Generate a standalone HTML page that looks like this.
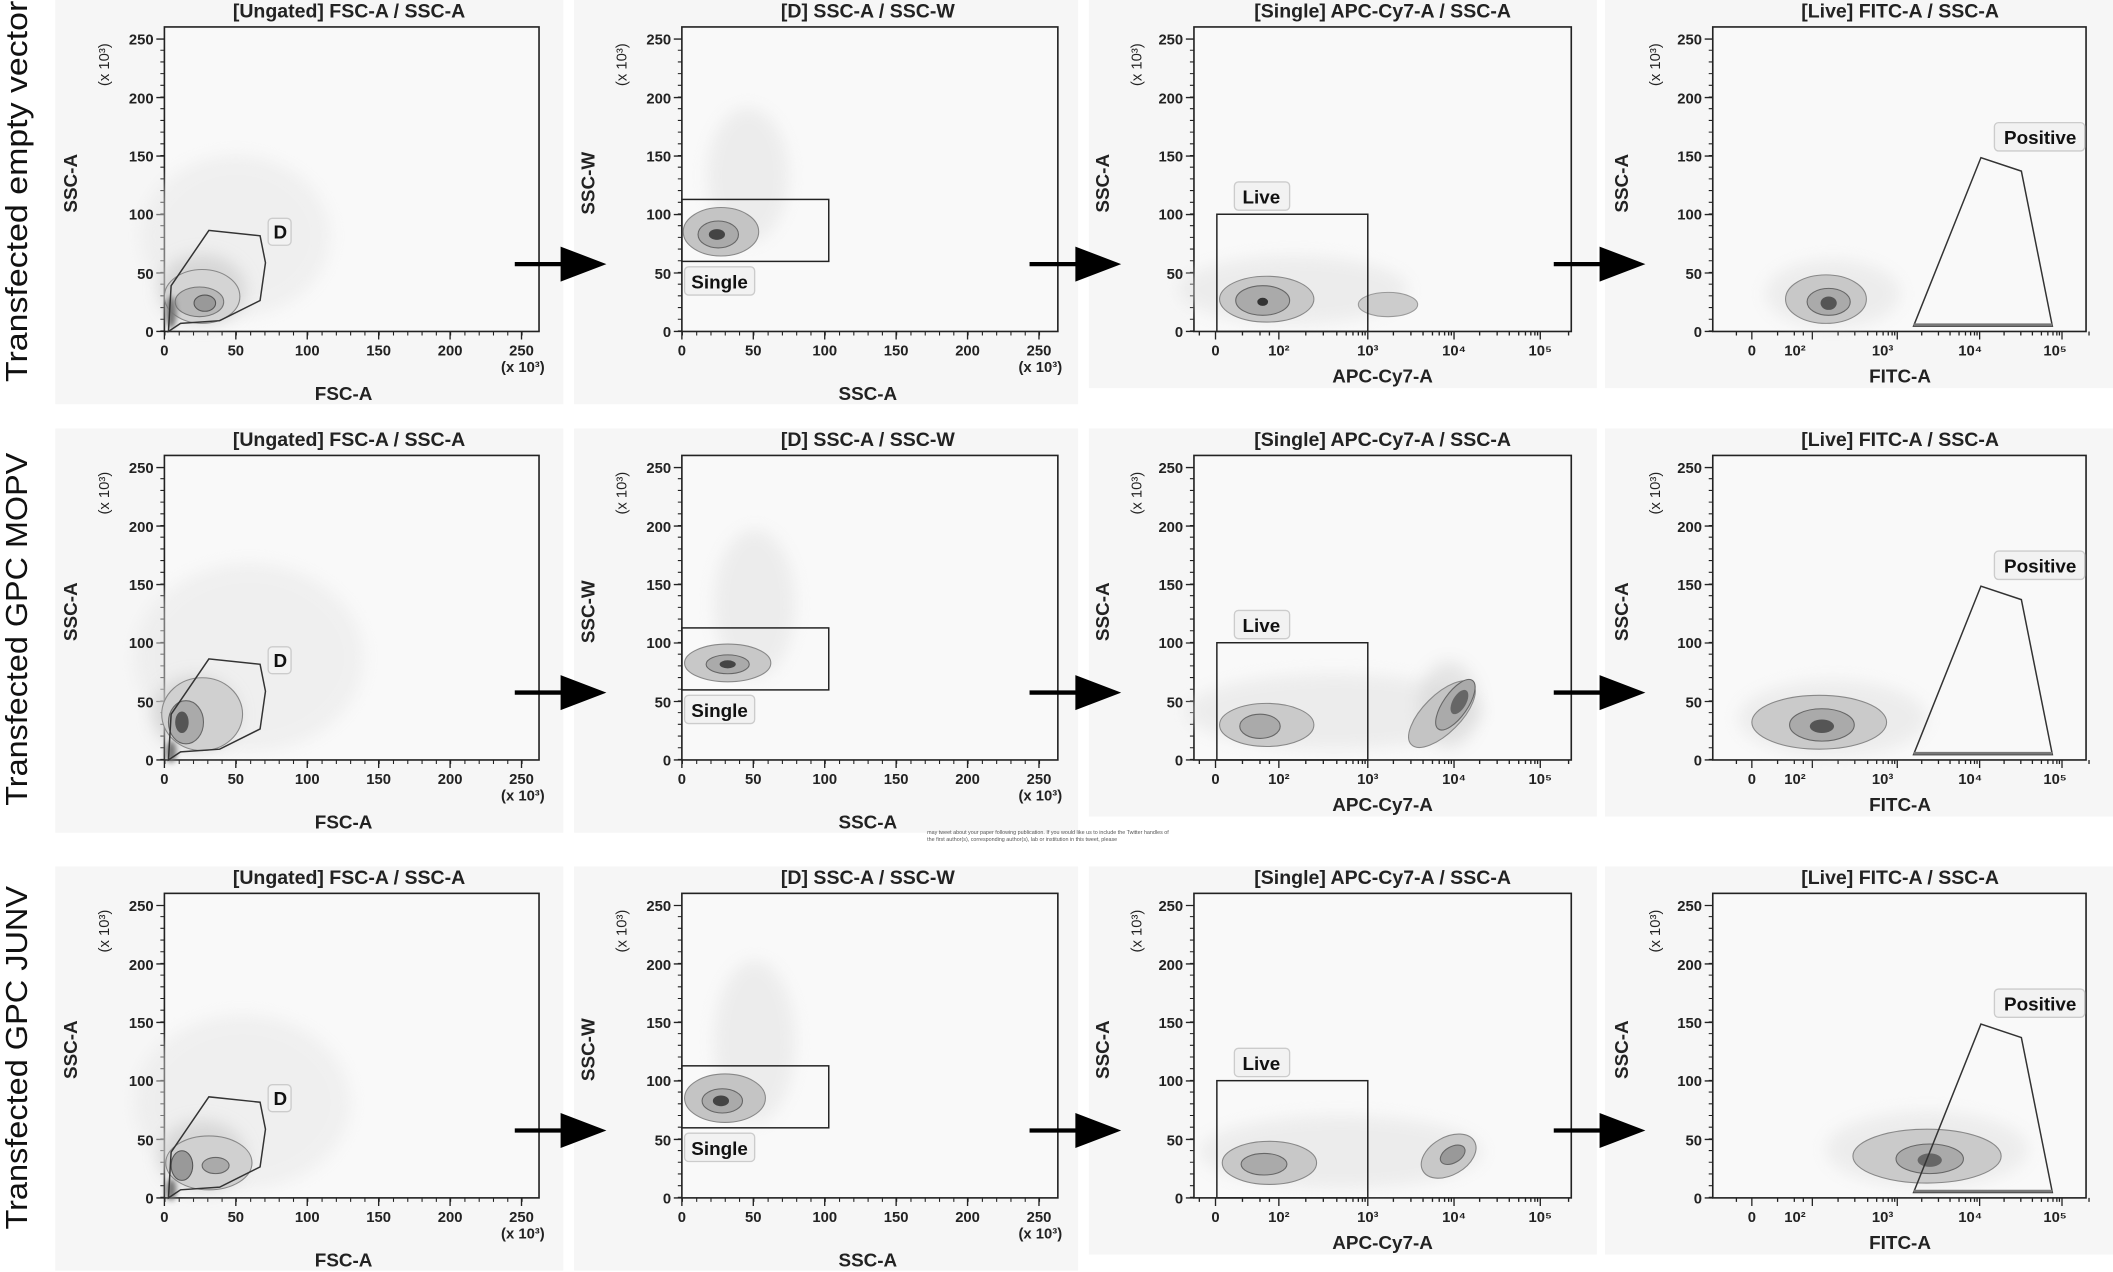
<!DOCTYPE html>
<html><head><meta charset="utf-8"><style>
html,body{margin:0;padding:0;background:#fff;}
svg{display:block;}
text{font-family:"Liberation Sans Narrow","Liberation Sans",sans-serif;fill:#222;font-weight:bold;}
.t{font-size:14.5px;text-anchor:middle;}
.yl{font-size:11px;text-anchor:end;font-weight:normal;}
.xl{font-size:11px;text-anchor:middle;font-weight:normal;}
.ax{font-size:14px;text-anchor:middle;}
.rl{font-family:"Liberation Sans",sans-serif;font-size:23px;text-anchor:middle;fill:#111;font-weight:normal;}
.gl{font-size:14px;text-anchor:middle;fill:#111;}
.cl{opacity:0.45;}
</style></head><body>
<svg width="2113" height="1272" viewBox="0 0 1568 944" preserveAspectRatio="none" xmlns="http://www.w3.org/2000/svg">
<defs>
<filter id="b" x="-50%" y="-50%" width="200%" height="200%"><feGaussianBlur stdDeviation="6"/></filter>
<filter id="b2" x="-50%" y="-50%" width="200%" height="200%"><feGaussianBlur stdDeviation="2"/></filter>
<g id="yt" stroke="#222" fill="none">
<line x1="-1.5" y1="246" x2="-1.5" y2="29" stroke-width="3" stroke-dasharray="0.8 7.88"/>
<path d="M-6 246H0M-6 202.6H0M-6 159.2H0M-6 115.8H0M-6 72.4H0M-6 29H0" stroke-width="1"/>
</g>
<g id="xtl" stroke="#222" fill="none">
<line x1="0" y1="247.5" x2="270" y2="247.5" stroke-width="3" stroke-dasharray="0.8 9.8"/>
<path d="M0 246V252M53 246V252M106 246V252M159 246V252M212 246V252M265 246V252" stroke-width="1"/>
</g>
<g id="xtg" stroke="#222" fill="none" stroke-width="1">
<path d="M0 246V252M47 246V252M113 246V252M177 246V252M241 246V252"/>
<path d="M-12 246V249M20 246V249M33 246V249M40 246V249M67 246V249M80 246V249M90 246V249M97 246V249M102 246V249M106 246V249M109 246V249M111 246V249M132 246V249M145 246V249M154 246V249M161 246V249M166 246V249M170 246V249M173 246V249M175 246V249M196 246V249M209 246V249M218 246V249M225 246V249M230 246V249M234 246V249M237 246V249M239 246V249M262 246V249"/>
</g>
<polygon id="arr" points="0,-1.6 34,-1.6 34,-13 68,0 34,13 34,1.6 0,1.6" fill="#000"/>
</defs>
<rect width="1568" height="944" fill="#fff"/>

<!-- Row labels -->
<text class="rl" transform="translate(20,142) rotate(-90)" textLength="283" lengthAdjust="spacingAndGlyphs">Transfected empty vector</text>
<text class="rl" transform="translate(20,467) rotate(-90)" textLength="262" lengthAdjust="spacingAndGlyphs">Transfected GPC MOPV</text>
<text class="rl" transform="translate(20,785) rotate(-90)" textLength="255" lengthAdjust="spacingAndGlyphs">Transfected GPC JUNV</text>

<g id="row1">
<rect x="41" y="0" width="377" height="300" fill="#f6f6f6"/>
<rect x="426" y="0" width="374" height="300" fill="#f6f6f6"/>
<rect x="808" y="0" width="377" height="288" fill="#f6f6f6"/>
<rect x="1191" y="0" width="377" height="288" fill="#f6f6f6"/>
</g>
<use href="#row1" y="318"/>
<use href="#row1" y="643"/>

<g id="frame">
<rect x="122" y="20" width="278" height="226" fill="#f9f9f9" stroke="#222" stroke-width="1.2"/>
<use href="#yt" x="122"/><use href="#xtl" x="122"/>
<rect x="506" y="20" width="279" height="226" fill="#f9f9f9" stroke="#222" stroke-width="1.2"/>
<use href="#yt" x="506"/><use href="#xtl" x="506"/>
<rect x="886" y="20" width="280" height="226" fill="#f9f9f9" stroke="#222" stroke-width="1.2"/>
<use href="#yt" x="886"/><use href="#xtg" x="902"/>
<rect x="1271" y="20" width="277" height="226" fill="#f9f9f9" stroke="#222" stroke-width="1.2"/>
<use href="#yt" x="1271"/><use href="#xtg" x="1300" transform="translate(1300,0) scale(0.955,1) translate(-1300,0)"/>
</g>
<use href="#frame" y="318"/>
<use href="#frame" y="643"/>

<!-- ============ DATA ROW 1 ============ -->
<g>
<ellipse class="cl" cx="175" cy="175" rx="70" ry="60" fill="#e4e4e4" filter="url(#b)"/>
<ellipse cx="150" cy="215" rx="32" ry="26" fill="#ccc" opacity="0.7" filter="url(#b)"/>
<ellipse cx="150" cy="220" rx="28" ry="20" fill="#d4d4d4" stroke="#888" stroke-width="0.8"/>
<ellipse cx="148" cy="224" rx="18" ry="11" fill="#b8b8b8" stroke="#777" stroke-width="0.8"/>
<ellipse cx="152" cy="225" rx="8" ry="6" fill="#999" stroke="#555" stroke-width="0.8"/>
<ellipse cx="127" cy="232" rx="4" ry="12" fill="#777" filter="url(#b2)"/>
<polygon points="127,212 155,171 193,175 197,195 193,223 163,238 134,240 125,246" fill="none" stroke="#333" stroke-width="1.1"/>
<ellipse class="cl" cx="555" cy="130" rx="30" ry="50" fill="#ddd" filter="url(#b)"/>
<ellipse cx="535" cy="172" rx="28" ry="18" fill="#c4c4c4" stroke="#888" stroke-width="0.8"/>
<ellipse cx="533" cy="174" rx="15" ry="10" fill="#aaa" stroke="#666" stroke-width="0.8"/>
<ellipse cx="532" cy="174" rx="6" ry="4" fill="#444"/>
<ellipse class="cl" cx="960" cy="215" rx="85" ry="25" fill="#ddd" filter="url(#b)"/>
<ellipse cx="940" cy="222" rx="35" ry="17" fill="#c8c8c8" stroke="#888" stroke-width="0.8"/>
<ellipse cx="937" cy="223" rx="20" ry="11" fill="#aaa" stroke="#666" stroke-width="0.8"/>
<ellipse cx="937" cy="224" rx="4" ry="3" fill="#333"/>
<ellipse cx="1030" cy="226" rx="22" ry="9" fill="#ccc" stroke="#999" stroke-width="0.8"/>
<ellipse class="cl" cx="1360" cy="218" rx="50" ry="25" fill="#ddd" filter="url(#b)"/>
<ellipse cx="1355" cy="222" rx="30" ry="18" fill="#c8c8c8" stroke="#888" stroke-width="0.8"/>
<ellipse cx="1357" cy="224" rx="16" ry="10" fill="#aaa" stroke="#666" stroke-width="0.8"/>
<ellipse cx="1357" cy="225" rx="6" ry="5" fill="#555"/>
</g>

<!-- ============ DATA ROW 2 ============ -->
<g transform="translate(0,318)">
<ellipse class="cl" cx="185" cy="170" rx="85" ry="70" fill="#e4e4e4" filter="url(#b)"/>
<ellipse cx="145" cy="212" rx="32" ry="28" fill="#ccc" opacity="0.7" filter="url(#b)"/>
<ellipse cx="150" cy="212" rx="30" ry="27" fill="#d0d0d0" stroke="#888" stroke-width="0.8"/>
<ellipse cx="138" cy="218" rx="13" ry="16" fill="#aaa" stroke="#666" stroke-width="0.8"/>
<ellipse cx="135" cy="218" rx="5" ry="8" fill="#555"/>
<ellipse cx="127" cy="240" rx="4" ry="8" fill="#777" filter="url(#b2)"/>
<polygon points="127,212 155,171 193,175 197,195 193,223 163,238 134,240 125,246" fill="none" stroke="#333" stroke-width="1.1"/>
<ellipse class="cl" cx="560" cy="130" rx="30" ry="55" fill="#ddd" filter="url(#b)"/>
<ellipse cx="540" cy="174" rx="32" ry="14" fill="#c8c8c8" stroke="#888" stroke-width="0.8"/>
<ellipse cx="540" cy="175" rx="16" ry="7" fill="#aaa" stroke="#666" stroke-width="0.8"/>
<ellipse cx="540" cy="175" rx="6" ry="3" fill="#444"/>
<ellipse class="cl" cx="990" cy="210" rx="110" ry="28" fill="#ddd" filter="url(#b)"/>
<ellipse cx="940" cy="220" rx="35" ry="16" fill="#cacaca" stroke="#888" stroke-width="0.8"/>
<ellipse cx="935" cy="221" rx="15" ry="9" fill="#aaa" stroke="#666" stroke-width="0.8"/>
<ellipse class="cl" cx="1075" cy="205" rx="22" ry="32" fill="#ccc" filter="url(#b)"/>
<ellipse cx="1070" cy="212" rx="32" ry="14" transform="rotate(-45 1070 212)" fill="#c4c4c4" stroke="#888" stroke-width="0.8"/>
<ellipse cx="1080" cy="205" rx="22" ry="9" transform="rotate(-55 1080 205)" fill="#aaa" stroke="#666" stroke-width="0.8"/>
<ellipse cx="1083" cy="203" rx="10" ry="5" transform="rotate(-60 1083 203)" fill="#666"/>
<ellipse class="cl" cx="1360" cy="215" rx="70" ry="28" fill="#ddd" filter="url(#b)"/>
<ellipse cx="1350" cy="218" rx="50" ry="20" fill="#cacaca" stroke="#888" stroke-width="0.8"/>
<ellipse cx="1352" cy="220" rx="24" ry="12" fill="#aaa" stroke="#666" stroke-width="0.8"/>
<ellipse cx="1352" cy="221" rx="9" ry="5" fill="#555"/>
</g>

<!-- ============ DATA ROW 3 ============ -->
<g transform="translate(0,643)">
<ellipse class="cl" cx="180" cy="175" rx="80" ry="65" fill="#e4e4e4" filter="url(#b)"/>
<ellipse cx="150" cy="215" rx="32" ry="26" fill="#ccc" opacity="0.7" filter="url(#b)"/>
<ellipse cx="155" cy="220" rx="32" ry="20" fill="#d0d0d0" stroke="#888" stroke-width="0.8"/>
<ellipse cx="135" cy="222" rx="8" ry="11" fill="#999" stroke="#555" stroke-width="0.8"/>
<ellipse cx="160" cy="222" rx="10" ry="6" fill="#aaa" stroke="#666" stroke-width="0.8"/>
<ellipse cx="127" cy="240" rx="4" ry="8" fill="#777" filter="url(#b2)"/>
<polygon points="127,212 155,171 193,175 197,195 193,223 163,238 134,240 125,246" fill="none" stroke="#333" stroke-width="1.1"/>
<ellipse class="cl" cx="560" cy="130" rx="30" ry="60" fill="#ddd" filter="url(#b)"/>
<ellipse cx="538" cy="172" rx="30" ry="18" fill="#c4c4c4" stroke="#888" stroke-width="0.8"/>
<ellipse cx="536" cy="174" rx="15" ry="9" fill="#aaa" stroke="#666" stroke-width="0.8"/>
<ellipse cx="535" cy="174" rx="6" ry="4" fill="#444"/>
<ellipse class="cl" cx="995" cy="212" rx="105" ry="27" fill="#ddd" filter="url(#b)"/>
<ellipse cx="942" cy="220" rx="35" ry="16" fill="#c8c8c8" stroke="#888" stroke-width="0.8"/>
<ellipse cx="938" cy="221" rx="17" ry="8" fill="#aaa" stroke="#666" stroke-width="0.8"/>
<ellipse cx="1075" cy="215" rx="22" ry="14" transform="rotate(-30 1075 215)" fill="#c8c8c8" stroke="#888" stroke-width="0.8"/>
<ellipse cx="1078" cy="214" rx="10" ry="6" transform="rotate(-30 1078 214)" fill="#999" stroke="#666" stroke-width="0.8"/>
<ellipse class="cl" cx="1430" cy="210" rx="75" ry="28" fill="#ddd" filter="url(#b)"/>
<ellipse cx="1430" cy="215" rx="55" ry="20" fill="#cacaca" stroke="#888" stroke-width="0.8"/>
<ellipse cx="1432" cy="217" rx="25" ry="11" fill="#aaa" stroke="#666" stroke-width="0.8"/>
<ellipse cx="1432" cy="218" rx="9" ry="5" fill="#666"/>
</g>

<g id="gates">
<rect x="506" y="148" width="109" height="46" fill="none" stroke="#222" stroke-width="1.1"/>
<rect x="903" y="159" width="112" height="87" fill="none" stroke="#222" stroke-width="1.1"/>
<polygon points="1420,242 1470,117 1500,127 1523,242" fill="none" stroke="#333" stroke-width="1.1"/>
<line x1="1420" y1="241" x2="1523" y2="241" stroke="#777" stroke-width="2"/>
<rect x="199" y="162" width="17" height="20" rx="3" fill="#f2f2f2" stroke="#ccc"/>
<rect x="508" y="198" width="52" height="21" rx="3" fill="#f2f2f2" stroke="#ccc"/>
<rect x="916" y="135" width="41" height="21" rx="3" fill="#f2f2f2" stroke="#ccc"/>
<rect x="1480" y="91" width="67" height="21" rx="3" fill="#f2f2f2" stroke="#ccc"/>
<use href="#arr" x="382" y="196"/>
<use href="#arr" x="764" y="196"/>
<use href="#arr" x="1153" y="196"/>
</g>
<use href="#gates" y="318"/>
<use href="#gates" y="643"/>

<g id="txt">
<text class="t" x="259" y="13">[Ungated] FSC-A / SSC-A</text>
<text class="t" x="644" y="13">[D] SSC-A / SSC-W</text>
<text class="t" x="1026" y="13">[Single] APC-Cy7-A / SSC-A</text>
<text class="t" x="1410" y="13">[Live] FITC-A / SSC-A</text>
<text class="gl" x="208" y="177">D</text>
<text class="gl" x="534" y="214">Single</text>
<text class="gl" x="936" y="151">Live</text>
<text class="gl" x="1514" y="107">Positive</text>
<g class="yl"><text x="114" y="250">0</text><text x="114" y="207">50</text><text x="114" y="163">100</text><text x="114" y="120">150</text><text x="114" y="77">200</text><text x="114" y="33">250</text></g>
<g class="yl"><text x="498" y="250">0</text><text x="498" y="207">50</text><text x="498" y="163">100</text><text x="498" y="120">150</text><text x="498" y="77">200</text><text x="498" y="33">250</text></g>
<g class="yl"><text x="878" y="250">0</text><text x="878" y="207">50</text><text x="878" y="163">100</text><text x="878" y="120">150</text><text x="878" y="77">200</text><text x="878" y="33">250</text></g>
<g class="yl"><text x="1263" y="250">0</text><text x="1263" y="207">50</text><text x="1263" y="163">100</text><text x="1263" y="120">150</text><text x="1263" y="77">200</text><text x="1263" y="33">250</text></g>
<g class="xl"><text x="122" y="264">0</text><text x="175" y="264">50</text><text x="228" y="264">100</text><text x="281" y="264">150</text><text x="334" y="264">200</text><text x="387" y="264">250</text><text x="388" y="276">(x 10³)</text></g>
<g class="xl"><text x="506" y="264">0</text><text x="559" y="264">50</text><text x="612" y="264">100</text><text x="665" y="264">150</text><text x="718" y="264">200</text><text x="771" y="264">250</text><text x="772" y="276">(x 10³)</text></g>
<g class="xl"><text x="902" y="264">0</text><text x="949" y="264">10²</text><text x="1015" y="264">10³</text><text x="1079" y="264">10⁴</text><text x="1143" y="264">10⁵</text></g>
<g class="xl"><text x="1300" y="264">0</text><text x="1332" y="264">10²</text><text x="1397" y="264">10³</text><text x="1462" y="264">10⁴</text><text x="1525" y="264">10⁵</text></g>
<text class="ax" x="255" y="297">FSC-A</text>
<text class="ax" x="644" y="297">SSC-A</text>
<text class="ax" x="1026" y="284">APC-Cy7-A</text>
<text class="ax" x="1410" y="284">FITC-A</text>
<text class="ax" transform="translate(57,136) rotate(-90)">SSC-A</text>
<text class="ax" transform="translate(441,136) rotate(-90)">SSC-W</text>
<text class="ax" transform="translate(823,136) rotate(-90)">SSC-A</text>
<text class="ax" transform="translate(1208,136) rotate(-90)">SSC-A</text>
<text class="xl" transform="translate(81,48) rotate(-90)">(x 10³)</text>
<text class="xl" transform="translate(465,48) rotate(-90)">(x 10³)</text>
<text class="xl" transform="translate(847,48) rotate(-90)">(x 10³)</text>
<text class="xl" transform="translate(1232,48) rotate(-90)">(x 10³)</text>
</g>
<g transform="translate(0,318)">
<text class="t" x="259" y="13">[Ungated] FSC-A / SSC-A</text>
<text class="t" x="644" y="13">[D] SSC-A / SSC-W</text>
<text class="t" x="1026" y="13">[Single] APC-Cy7-A / SSC-A</text>
<text class="t" x="1410" y="13">[Live] FITC-A / SSC-A</text>
<text class="gl" x="208" y="177">D</text>
<text class="gl" x="534" y="214">Single</text>
<text class="gl" x="936" y="151">Live</text>
<text class="gl" x="1514" y="107">Positive</text>
<g class="yl"><text x="114" y="250">0</text><text x="114" y="207">50</text><text x="114" y="163">100</text><text x="114" y="120">150</text><text x="114" y="77">200</text><text x="114" y="33">250</text></g>
<g class="yl"><text x="498" y="250">0</text><text x="498" y="207">50</text><text x="498" y="163">100</text><text x="498" y="120">150</text><text x="498" y="77">200</text><text x="498" y="33">250</text></g>
<g class="yl"><text x="878" y="250">0</text><text x="878" y="207">50</text><text x="878" y="163">100</text><text x="878" y="120">150</text><text x="878" y="77">200</text><text x="878" y="33">250</text></g>
<g class="yl"><text x="1263" y="250">0</text><text x="1263" y="207">50</text><text x="1263" y="163">100</text><text x="1263" y="120">150</text><text x="1263" y="77">200</text><text x="1263" y="33">250</text></g>
<g class="xl"><text x="122" y="264">0</text><text x="175" y="264">50</text><text x="228" y="264">100</text><text x="281" y="264">150</text><text x="334" y="264">200</text><text x="387" y="264">250</text><text x="388" y="276">(x 10³)</text></g>
<g class="xl"><text x="506" y="264">0</text><text x="559" y="264">50</text><text x="612" y="264">100</text><text x="665" y="264">150</text><text x="718" y="264">200</text><text x="771" y="264">250</text><text x="772" y="276">(x 10³)</text></g>
<g class="xl"><text x="902" y="264">0</text><text x="949" y="264">10²</text><text x="1015" y="264">10³</text><text x="1079" y="264">10⁴</text><text x="1143" y="264">10⁵</text></g>
<g class="xl"><text x="1300" y="264">0</text><text x="1332" y="264">10²</text><text x="1397" y="264">10³</text><text x="1462" y="264">10⁴</text><text x="1525" y="264">10⁵</text></g>
<text class="ax" x="255" y="297">FSC-A</text>
<text class="ax" x="644" y="297">SSC-A</text>
<text class="ax" x="1026" y="284">APC-Cy7-A</text>
<text class="ax" x="1410" y="284">FITC-A</text>
<text class="ax" transform="translate(57,136) rotate(-90)">SSC-A</text>
<text class="ax" transform="translate(441,136) rotate(-90)">SSC-W</text>
<text class="ax" transform="translate(823,136) rotate(-90)">SSC-A</text>
<text class="ax" transform="translate(1208,136) rotate(-90)">SSC-A</text>
<text class="xl" transform="translate(81,48) rotate(-90)">(x 10³)</text>
<text class="xl" transform="translate(465,48) rotate(-90)">(x 10³)</text>
<text class="xl" transform="translate(847,48) rotate(-90)">(x 10³)</text>
<text class="xl" transform="translate(1232,48) rotate(-90)">(x 10³)</text>
</g>
<g transform="translate(0,643)">
<text class="t" x="259" y="13">[Ungated] FSC-A / SSC-A</text>
<text class="t" x="644" y="13">[D] SSC-A / SSC-W</text>
<text class="t" x="1026" y="13">[Single] APC-Cy7-A / SSC-A</text>
<text class="t" x="1410" y="13">[Live] FITC-A / SSC-A</text>
<text class="gl" x="208" y="177">D</text>
<text class="gl" x="534" y="214">Single</text>
<text class="gl" x="936" y="151">Live</text>
<text class="gl" x="1514" y="107">Positive</text>
<g class="yl"><text x="114" y="250">0</text><text x="114" y="207">50</text><text x="114" y="163">100</text><text x="114" y="120">150</text><text x="114" y="77">200</text><text x="114" y="33">250</text></g>
<g class="yl"><text x="498" y="250">0</text><text x="498" y="207">50</text><text x="498" y="163">100</text><text x="498" y="120">150</text><text x="498" y="77">200</text><text x="498" y="33">250</text></g>
<g class="yl"><text x="878" y="250">0</text><text x="878" y="207">50</text><text x="878" y="163">100</text><text x="878" y="120">150</text><text x="878" y="77">200</text><text x="878" y="33">250</text></g>
<g class="yl"><text x="1263" y="250">0</text><text x="1263" y="207">50</text><text x="1263" y="163">100</text><text x="1263" y="120">150</text><text x="1263" y="77">200</text><text x="1263" y="33">250</text></g>
<g class="xl"><text x="122" y="264">0</text><text x="175" y="264">50</text><text x="228" y="264">100</text><text x="281" y="264">150</text><text x="334" y="264">200</text><text x="387" y="264">250</text><text x="388" y="276">(x 10³)</text></g>
<g class="xl"><text x="506" y="264">0</text><text x="559" y="264">50</text><text x="612" y="264">100</text><text x="665" y="264">150</text><text x="718" y="264">200</text><text x="771" y="264">250</text><text x="772" y="276">(x 10³)</text></g>
<g class="xl"><text x="902" y="264">0</text><text x="949" y="264">10²</text><text x="1015" y="264">10³</text><text x="1079" y="264">10⁴</text><text x="1143" y="264">10⁵</text></g>
<g class="xl"><text x="1300" y="264">0</text><text x="1332" y="264">10²</text><text x="1397" y="264">10³</text><text x="1462" y="264">10⁴</text><text x="1525" y="264">10⁵</text></g>
<text class="ax" x="255" y="297">FSC-A</text>
<text class="ax" x="644" y="297">SSC-A</text>
<text class="ax" x="1026" y="284">APC-Cy7-A</text>
<text class="ax" x="1410" y="284">FITC-A</text>
<text class="ax" transform="translate(57,136) rotate(-90)">SSC-A</text>
<text class="ax" transform="translate(441,136) rotate(-90)">SSC-W</text>
<text class="ax" transform="translate(823,136) rotate(-90)">SSC-A</text>
<text class="ax" transform="translate(1208,136) rotate(-90)">SSC-A</text>
<text class="xl" transform="translate(81,48) rotate(-90)">(x 10³)</text>
<text class="xl" transform="translate(465,48) rotate(-90)">(x 10³)</text>
<text class="xl" transform="translate(847,48) rotate(-90)">(x 10³)</text>
<text class="xl" transform="translate(1232,48) rotate(-90)">(x 10³)</text>
</g>

<!-- tiny text -->
<text x="688" y="619" style="font-size:4px;fill:#555;font-weight:normal">may tweet about your paper following publication. If you would like us to include the Twitter handles of</text>
<text x="688" y="624" style="font-size:4px;fill:#555;font-weight:normal">the first author(s), corresponding author(s), lab or institution in this tweet, please</text>
</svg>
</body></html>
